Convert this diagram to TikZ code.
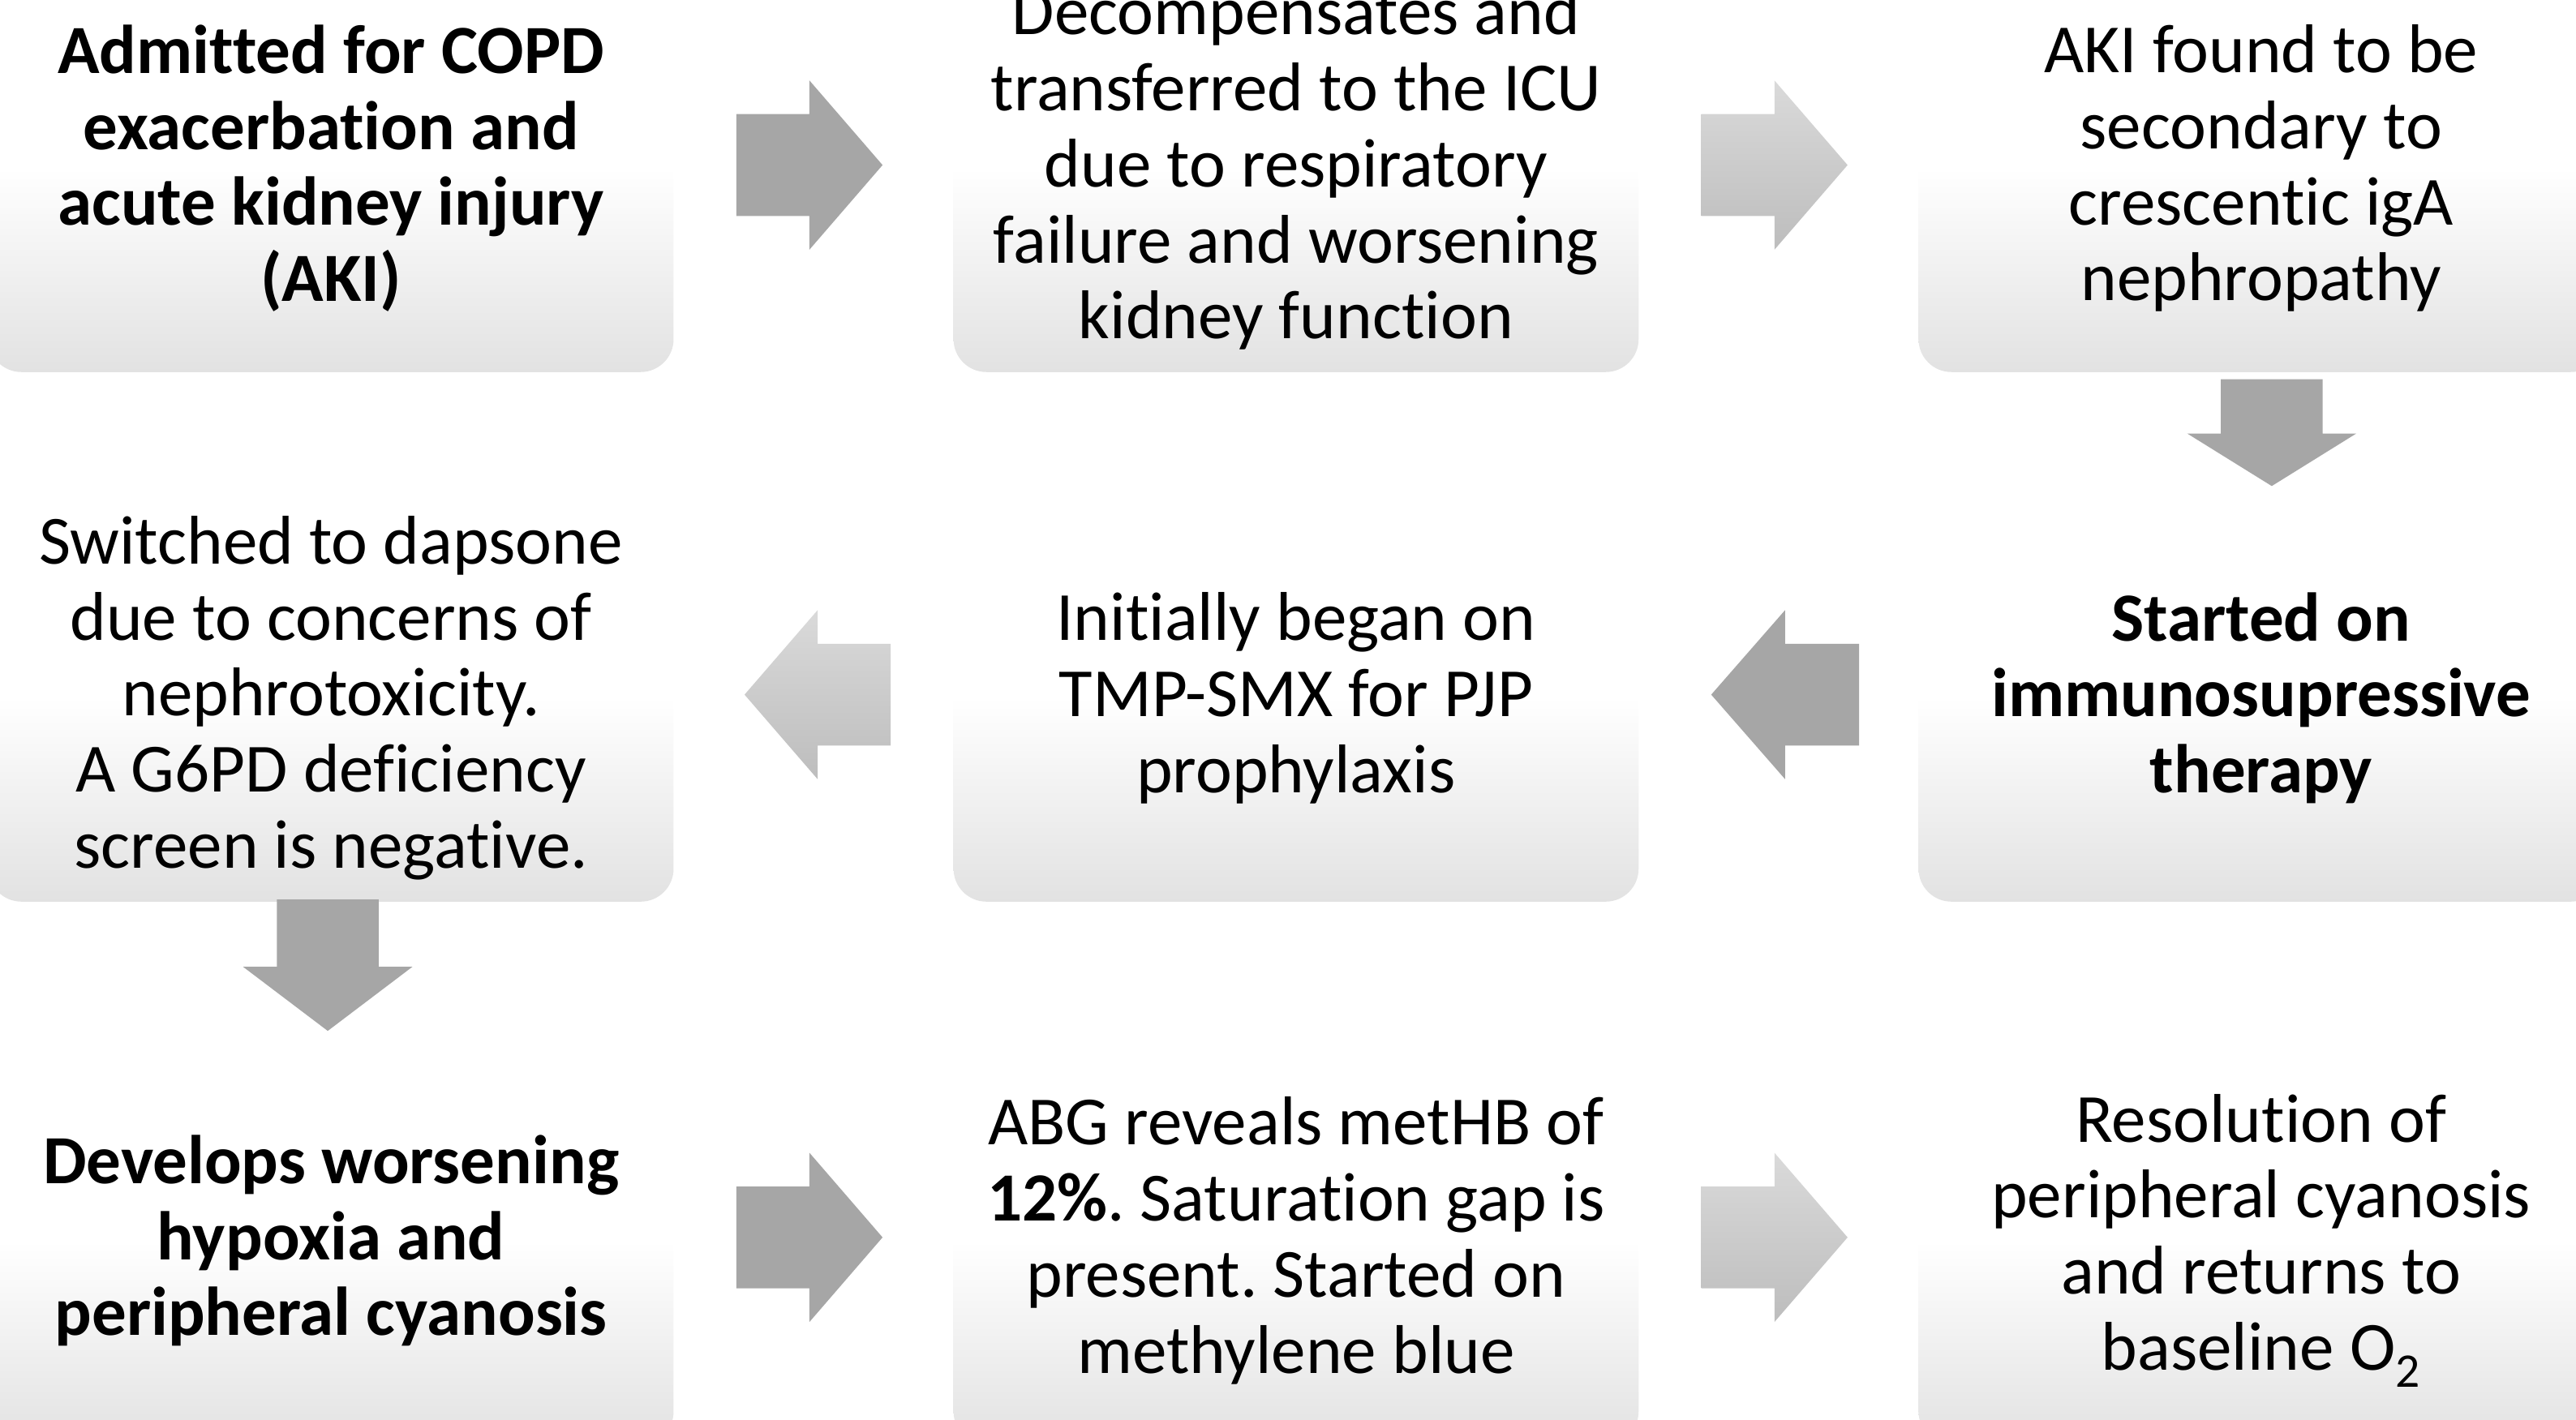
\documentclass[tikz,border=0pt]{standalone}
\usepackage{fontspec}
\setmainfont{Carlito}[Ligatures=NoCommon]
\usetikzlibrary{positioning,calc}
\definecolor{boxgray}{HTML}{E2E2E2}
\definecolor{arrowgray}{HTML}{A6A6A6}
\definecolor{arrowtop}{HTML}{DADADA}
\definecolor{arrowbottom}{HTML}{BDBDBD}
\frenchspacing
\tikzset{
  stepbox/.style={rectangle, rounded corners=20pt, minimum width=417pt,
    minimum height=248pt, inner sep=0pt, align=center,
    top color=white, bottom color=boxgray, middle color=white,
    font=\fontsize{42}{46.3}\selectfont},
  boldbox/.style={stepbox, font=\fontsize{42}{46.3}\selectfont\bfseries},
  solidarrow/.style={fill=arrowgray},
  fadearrow/.style={top color=arrowtop, bottom color=arrowbottom},
  pics/blockarrow/.style n args={3}{code={
    \path[#3] (0,-31) -- ({(#1)-(#2)},-31) -- ({(#1)-(#2)},-51.5) -- (#1,0)
      -- ({(#1)-(#2)},51.5) -- ({(#1)-(#2)},31) -- (0,31) -- cycle;
  }}
}
\begin{document}
\begin{tikzpicture}[x=1pt,y=1pt]
\useasboundingbox (0,0) rectangle (1568,864);
% boxes, first row:
\node[boldbox] (A) at (201.5,761.5) {Admitted for COPD\\exacerbation and\\acute kidney injury\\(AKI)};
\node[stepbox, right=170pt of A] (B) {Decompensates and\\transferred to the ICU\\due to respiratory\\failure and worsening\\kidney function};
\node[stepbox, right=170pt of B] (C) {AKI found to be\\secondary to\\crescentic igA\\nephropathy};
% boxes, second row:
\node[boldbox, below=74pt of C] (F) {Started on\\immunosupressive\\therapy};
\node[stepbox, left=170pt of F] (E) {Initially began on\\TMP-SMX for PJP\\prophylaxis};
\node[stepbox, left=170pt of E] (D) {Switched to dapsone\\due to concerns of\\nephrotoxicity.\\A G6PD deficiency\\screen is negative.};
% boxes, third row:
\node[boldbox, below=82pt of D] (G) {Develops worsening\\hypoxia and\\peripheral cyanosis};
\node[stepbox, right=170pt of G] (H) {ABG reveals metHB of\\\textbf{12\%}. Saturation gap is\\present. Started on\\methylene blue};
\node[stepbox, right=170pt of H] (I) {Resolution of\\peripheral cyanosis\\and returns to\\baseline O\textsubscript{2}};
% arrows:
\pic at ($(A.east)+(38,2)$) {blockarrow={89}{44.5}{solidarrow}};
\pic at ($(B.east)+(38,2)$) {blockarrow={89}{44.5}{fadearrow}};
\pic[rotate=-90] at ($(C.south)+(6.5,-4.2)$) {blockarrow={65}{32}{solidarrow}};
\pic at ($(F.west)+(-36,2)$) {blockarrow={-90}{-45}{solidarrow}};
\pic at ($(E.west)+(-38,2)$) {blockarrow={-89}{-44.5}{fadearrow}};
\pic[rotate=-90] at ($(D.south)+(-2,1.5)$) {blockarrow={80}{39}{solidarrow}};
\pic at ($(G.east)+(38,2)$) {blockarrow={89}{44.5}{solidarrow}};
\pic at ($(H.east)+(38,2)$) {blockarrow={89}{44.5}{fadearrow}};
\end{tikzpicture}
\end{document}
